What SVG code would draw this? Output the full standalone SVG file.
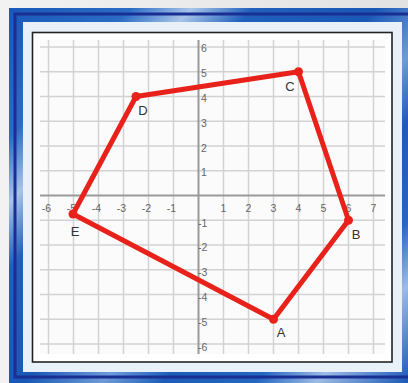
<svg xmlns="http://www.w3.org/2000/svg" width="408" height="383" viewBox="0 0 408 383">
<defs>
<linearGradient id="bg" x1="0" y1="0" x2="1" y2="0">
<stop offset="0" stop-color="#f2f2f2"/><stop offset="1" stop-color="#e2e2e2"/>
</linearGradient>
<linearGradient id="frame" gradientUnits="userSpaceOnUse" x1="0" y1="0" x2="408" y2="383">
<stop offset="0" stop-color="#1656b8"/>
<stop offset="0.18" stop-color="#2a6cc4"/>
<stop offset="0.26" stop-color="#a8c4e8"/>
<stop offset="0.34" stop-color="#1f60bc"/>
<stop offset="0.5" stop-color="#1a58b6"/>
<stop offset="0.6" stop-color="#6f9ad8"/>
<stop offset="0.68" stop-color="#1d5cb8"/>
<stop offset="0.8" stop-color="#2466c0"/>
<stop offset="0.88" stop-color="#9dbbe6"/>
<stop offset="1" stop-color="#1a58b6"/>
</linearGradient>
<style>
.grid{stroke:#d2d2d2;stroke-width:1.5;fill:none}
.axis{stroke:#9a9a9a;stroke-width:2;fill:none}
.tick{font-family:"Liberation Sans",Arial,sans-serif;font-size:10.5px;fill:#666}
.xt{text-anchor:middle}
.lbl{font-family:"Liberation Sans",Arial,sans-serif;font-size:13px;fill:#333;text-anchor:middle}
.edge{stroke:#e8221b;stroke-width:5;fill:none;stroke-linejoin:round;stroke-linecap:round}
.dot{fill:#e8221b}
</style>
</defs>
<rect x="0" y="0" width="408" height="383" fill="url(#bg)"/>
<rect x="9" y="8" width="399" height="375" fill="url(#frame)"/>
<rect x="15" y="14" width="399" height="363" fill="none" stroke="#1a2f92" stroke-width="3"/>
<rect x="23" y="22" width="379" height="350" fill="#e8f1f8"/>
<rect x="32.5" y="32.5" width="359.5" height="329.5" fill="#ffffff" stroke="#222222" stroke-width="1.6"/>
<rect x="40" y="40" width="345" height="314" fill="#fbfbfb"/>
<g id="grid">
<path class="grid" d="M48.5 40V354M73.5 40V354M98.5 40V354M123.5 40V354M148.5 40V354M173.5 40V354M223.5 40V354M248.5 40V354M273.5 40V354M298.5 40V354M323.5 40V354M348.5 40V354M373.5 40V354"/>
<path class="grid" d="M40 47H385M40 71.75H385M40 96.5H385M40 121.25H385M40 146H385M40 170.75H385M40 220.25H385M40 245H385M40 269.75H385M40 294.5H385M40 319.25H385M40 344H385"/>
<path class="axis" d="M40 195.5H385M198.5 40V354"/>
</g>
<g id="ticks" class="tick">
<text class="xt" x="46.5" y="212">-6</text>
<text class="xt" x="71.5" y="212">-5</text>
<text class="xt" x="96.5" y="212">-4</text>
<text class="xt" x="121.5" y="212">-3</text>
<text class="xt" x="146.5" y="212">-2</text>
<text class="xt" x="171.5" y="212">-1</text>
<text class="xt" x="223.5" y="212">1</text>
<text class="xt" x="248.5" y="212">2</text>
<text class="xt" x="273.5" y="212">3</text>
<text class="xt" x="298.5" y="212">4</text>
<text class="xt" x="323.5" y="212">5</text>
<text class="xt" x="348.5" y="212">6</text>
<text class="xt" x="373.5" y="212">7</text>
<text x="201" y="52">6</text>
<text x="201" y="77">5</text>
<text x="201" y="102">4</text>
<text x="201" y="127">3</text>
<text x="201" y="151.5">2</text>
<text x="201" y="176">1</text>
<text x="198" y="226.5">-1</text>
<text x="198" y="251">-2</text>
<text x="198" y="276">-3</text>
<text x="198" y="301">-4</text>
<text x="198" y="326">-5</text>
<text x="198" y="351">-6</text>
</g>
<g id="connectors">
<path class="edge" d="M273.5 319.25L348.5 220.25L298.5 71.75L136 96.5L73 214Z"/>
</g>
<g id="A"><circle class="dot" cx="273.5" cy="319.25" r="4.5"/><text class="lbl" x="281" y="337">A</text></g>
<g id="B"><circle class="dot" cx="348.5" cy="220.25" r="4.5"/><text class="lbl" x="356" y="239">B</text></g>
<g id="C"><circle class="dot" cx="298.5" cy="71.75" r="4.5"/><text class="lbl" x="290" y="91">C</text></g>
<g id="D"><circle class="dot" cx="136" cy="96.5" r="4.5"/><text class="lbl" x="143" y="115">D</text></g>
<g id="E"><circle class="dot" cx="73" cy="214" r="4.5"/><text class="lbl" x="75" y="236">E</text></g>
</svg>
